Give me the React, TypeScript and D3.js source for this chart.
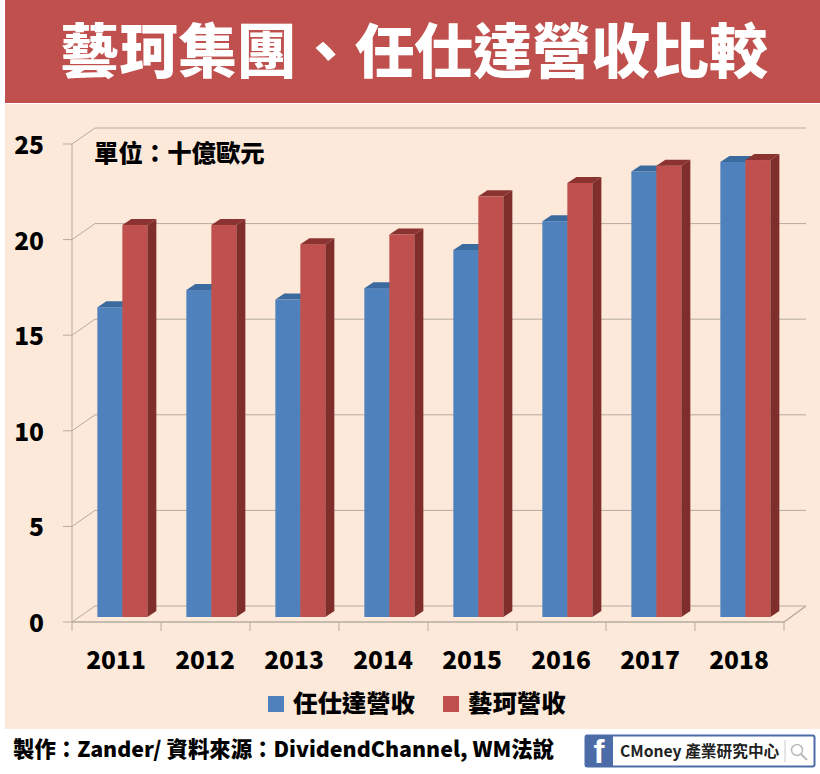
import * as d3 from "d3";
import React from "react";

const years = ["2011", "2012", "2013", "2014", "2015", "2016", "2017", "2018"];
const randstad = [16.2, 17.1, 16.6, 17.2, 19.2, 20.7, 23.3, 23.8];
const yageo = [20.5, 20.5, 19.5, 20.0, 22.0, 22.7, 23.6, 23.9];
const yTicks = [0, 5, 10, 15, 20, 25];
const seriesNames = ["任仕達營收", "藝珂營收"];

const cjk = "'Noto Sans CJK TC', 'Noto Sans', sans-serif";
const RED = "#C0504D";
const BLUE = "#4F81BD";
const GRID = "#B5ABA0";

// depth of the fake 3d box
const wallDx = 23;
const wallDy = 16;
const barDx = 9;
const barDy = 6;

const xScale = d3.scaleBand().domain(years).range([72, 784]);
const xInner = d3
  .scaleBand()
  .domain(["a", "b"])
  .range([0, xScale.bandwidth()])
  .paddingInner(0)
  .paddingOuter(0.78)
  .align(0.65);
const yScale = d3.scaleLinear().domain([0, 25]).range([622, 144]);
const barBase = 617;

const Bar = ({ x, w, v, front, top, side }: { x: number; w: number; v: number; front: string; top: string; side: string }) => {
  const y = barBase - (yScale(0) - yScale(v));
  return (
    <g>
      <rect x={x} y={y} width={w} height={barBase - y} fill={front} />
      <path d={`M${x},${y}l${barDx},${-barDy}h${w}l${-barDx},${barDy}z`} fill={top} />
      <path d={`M${x + w},${y}l${barDx},${-barDy}V${barBase - barDy}l${-barDx},${barDy}z`} fill={side} />
    </g>
  );
};

export default function App() {
  const w = xInner.bandwidth();
  return (
    <svg width={820} height={774} style={{ position: "absolute", left: 0, top: 0 }} fontFamily={cjk}>
      <rect width={820} height={774} fill="#fff" />
      <rect x={5} y={104} width={815} height={625} fill="#FDE9D9" />
      <rect x={5} y={0} width={815} height={103} fill={RED} />
      <text x={414} y={73} textAnchor="middle" fontSize={59} fontWeight={900} fill="#fff">
        藝珂集團、任仕達營收比較
      </text>

      {/* walls and grid */}
      {yTicks.map((t) => (
        <g key={t} stroke={GRID} strokeWidth={1} fill="none">
          <path d={`M63,${yScale(t)}H72l${wallDx},${-wallDy}H806`} />
        </g>
      ))}
      <path d={`M72,${yScale(25)}V${yScale(0)}`} stroke={GRID} fill="none" />
      <path d={`M72,622H784l${wallDx - 1},${-wallDy}`} stroke={GRID} strokeWidth={1.5} fill="none" />
      {[...years, "end"].map((y, i) => {
        const x = 72 + i * xScale.step();
        return <path key={y} d={`M${x},622v9`} stroke={GRID} />;
      })}

      {years.map((y, i) => (
        <g key={y}>
          <Bar x={xScale(y)! + xInner("a")!} w={w} v={randstad[i]} front={BLUE} top="#3B6A9E" side="#3B6A9E" />
          <Bar x={xScale(y)! + xInner("b")!} w={w} v={yageo[i]} front={RED} top="#8A3331" side="#7F2E2C" />
          <text x={xScale(y)! + xScale.bandwidth() / 2 - 0.5} y={669} textAnchor="middle" fontSize={24.5} fontWeight={900} fill="#000">
            {y}
          </text>
        </g>
      ))}

      {yTicks.map((t) => (
        <text key={t} x={44} y={yScale(t) + 10} textAnchor="end" fontSize={24.5} fontWeight={900} fill="#000">
          {t}
        </text>
      ))}

      <text x={94} y={162} fontSize={24.4} fontWeight={900} fill="#000">
        單位：十億歐元
      </text>

      {/* legend */}
      <rect x={268} y={696} width={16} height={16} fill={BLUE} />
      <text x={293} y={712} fontSize={24.4} fontWeight={900} fill="#000">
        {seriesNames[0]}
      </text>
      <rect x={443} y={696} width={16} height={16} fill={RED} />
      <text x={468} y={712} fontSize={24.4} fontWeight={900} fill="#000">
        {seriesNames[1]}
      </text>

      <text x={13} y={757} fontSize={21.4} fontWeight={900} fill="#000">
        製作：Zander/ 資料來源：DividendChannel, WM法說
      </text>

      {/* facebook badge */}
      <rect x={585.5} y={735.5} width={229} height={31} rx={2} fill="#fff" stroke="#4C6CA8" strokeWidth={2} />
      <rect x={585} y={735} width={28} height={32} fill="#4C6CA8" />
      <text x={599} y={763} textAnchor="middle" fontSize={33} fontWeight={700} fontFamily="'Liberation Sans', sans-serif" fill="#fff">
        f
      </text>
      <text x={620} y={757} fontSize={15.7} fontWeight={700} fill="#222">
        CMoney 產業研究中心
      </text>
      <path d="M785,740V762" stroke="#ccc" />
      <circle cx={797} cy={750} r={5.5} fill="none" stroke="#bbb" strokeWidth={1.5} />
      <path d="M801,754l6,6" stroke="#bbb" strokeWidth={2} />
    </svg>
  );
}
